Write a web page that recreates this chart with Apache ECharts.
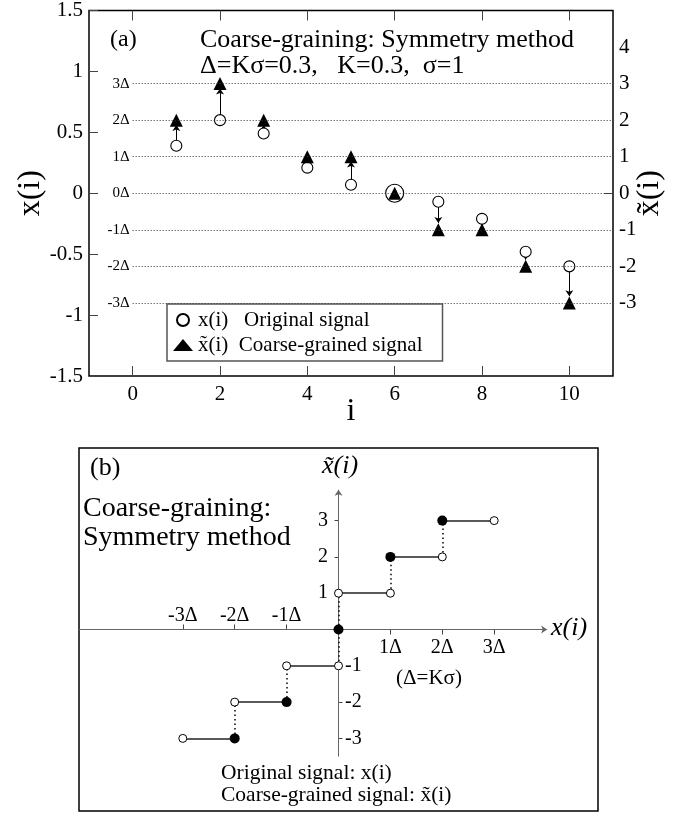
<!DOCTYPE html>
<html><head><meta charset="utf-8">
<script src="https://cdn.jsdelivr.net/npm/echarts@6/dist/echarts.min.js"></script>
<style>html,body{margin:0;padding:0;background:#fff}#c{width:696px;height:813px}</style>
</head><body><div id="c"></div>
<script>
const FONT = 'Liberation Serif';
// ---------- Panel (a) data ----------
const sampleIndex = [1, 2, 3, 4, 5, 6, 7, 8, 9, 10];
const originalSignal = [0.39, 0.60, 0.49, 0.21, 0.07, 0.00, -0.07, -0.21, -0.48, -0.60];
const coarseSignal = [2, 3, 2, 1, 1, 0, -1, -1, -2, -3];   // in units of Δ
const delta = 0.3;
const levelMultiples = [-3, -2, -1, 0, 1, 2, 3];
const xTicksA = [0, 2, 4, 6, 8, 10];
const rightTickLabels = [-3, -2, -1, 0, 1, 2, 3, 4];
// ---------- Panel (b) data ----------
const stepSegments = [[-3, -2, -3], [-2, -1, -2], [-1, 0, -1], [0, 1, 1], [1, 2, 2], [2, 3, 3]]; // [xStart, xEnd, level]
const openPoints = [[-3, -3], [-2, -2], [-1, -1], [0, -1], [0, 1], [1, 1], [2, 2], [3, 3]];
const filledPoints = [[-2, -3], [-1, -2], [0, 0], [1, 2], [2, 3]];
const dottedJumps = [[-2, -3, -2], [-1, -2, -1], [0, -1, 1], [1, 1, 2], [2, 2, 3]]; // [x, yFrom, yTo]
const xTicksPos = [1, 2, 3], xTicksNeg = [-3, -2, -1];
const yTicksPos = [1, 2, 3], yTicksNeg = [-1, -2, -3];
const axisArrowsB = [[[-5, 0], [4.02, 0]], [[0, -3.5], [0, 3.85]]];

const nameO = 'x(i)   Original signal';
const nameC = 'x\u0303(i)  Coarse-grained signal';

const arrows = [];
sampleIndex.forEach((i, k) => {
  const from = originalSignal[k], to = coarseSignal[k] * delta;
  if (Math.abs(to - from) < 0.01) return;
  const end = to > from ? to - 0.04 : to + 0.055;
  arrows.push({ coords: [[i, from], [i, end]] });
});

const txt = (x, y, text, size, opt) => ({
  type: 'text', x: x, y: y, silent: true,
  style: Object.assign({ text: text, fontSize: size, fontFamily: FONT, fill: '#000',
    align: 'left', verticalAlign: 'middle', textAlign: 'left', textVerticalAlign: 'middle' }, (opt || {}))
});

const tickLabelSeries = (pts, fmt, pos, dist) => ({
  type: 'scatter', xAxisIndex: 2, yAxisIndex: 2, silent: true, z: 5,
  data: pts, symbol: 'circle', symbolSize: 1,
  itemStyle: { color: 'rgba(0,0,0,0)', opacity: 1 },
  label: { show: true, position: pos, distance: dist, formatter: fmt,
    fontSize: 20, fontFamily: FONT, color: '#000' }
});

const chart = echarts.init(document.getElementById('c'), null, { renderer: 'canvas' });
chart.setOption({
  animation: false,
  backgroundColor: '#fff',
  grid: [
    { left: 89, top: 10, width: 524, height: 366, show: true, borderColor: '#000', borderWidth: 1.5, backgroundColor: 'transparent' },
    { left: 79, top: 448, width: 519, height: 363, show: true, borderColor: '#000', borderWidth: 1.5, backgroundColor: 'transparent' }
  ],
  xAxis: [
    { gridIndex: 0, type: 'value', min: -1, max: 11, position: 'bottom',
      axisLine: { show: false, onZero: false },
      axisTick: { show: true, inside: true, length: 10, customValues: xTicksA, lineStyle: { color: '#444' } },
      axisLabel: { customValues: xTicksA, fontSize: 21, fontFamily: FONT, color: '#000', margin: 8 },
      splitLine: { show: false },
      name: 'i', nameLocation: 'middle', nameGap: 20, nameMoveOverlap: false,
      nameTextStyle: { fontSize: 32, fontFamily: FONT, color: '#000' } },
    { gridIndex: 0, type: 'value', min: -1, max: 11, position: 'top',
      axisLine: { show: false, onZero: false },
      axisTick: { show: true, inside: true, length: 10, customValues: xTicksA, lineStyle: { color: '#444' } },
      axisLabel: { show: false }, splitLine: { show: false } },
    { gridIndex: 1, type: 'value', min: -5, max: 5, position: 'bottom',
      axisLine: { show: false, onZero: true, onZeroAxisIndex: 2 },
      axisTick: { show: true, length: 5, customValues: xTicksPos, lineStyle: { color: '#444' } },
      axisLabel: { show: false }, splitLine: { show: false } },
    { gridIndex: 1, type: 'value', min: -5, max: 5, position: 'top',
      axisLine: { show: false, onZero: true, onZeroAxisIndex: 2 },
      axisTick: { show: true, length: 5, customValues: xTicksNeg, lineStyle: { color: '#444' } },
      axisLabel: { show: false }, splitLine: { show: false } }
  ],
  yAxis: [
    { gridIndex: 0, type: 'value', min: -1.5, max: 1.5, interval: 0.5, position: 'left',
      axisLine: { show: false, onZero: false },
      axisTick: { show: true, inside: true, length: 9, lineStyle: { color: '#444' } },
      axisLabel: { fontSize: 21, fontFamily: FONT, color: '#000', margin: 6 },
      splitLine: { show: false },
      name: 'x(i)', nameLocation: 'middle', nameGap: 42, nameMoveOverlap: false,
      nameTextStyle: { fontSize: 32, fontFamily: FONT, color: '#000' } },
    { gridIndex: 0, type: 'value', min: -5, max: 5, interval: 1, position: 'right',
      axisLine: { show: false, onZero: false },
      axisTick: { show: true, inside: true, length: 9, customValues: [0], lineStyle: { color: '#444' } },
      axisLabel: { customValues: rightTickLabels, fontSize: 21, fontFamily: FONT, color: '#000', margin: 6 },
      splitLine: { show: false },
      name: 'x\u0303(i)', nameLocation: 'middle', nameGap: 21, nameRotate: 90, nameMoveOverlap: false,
      nameTextStyle: { fontSize: 32, fontFamily: FONT, color: '#000' } },
    { gridIndex: 1, type: 'value', min: -5, max: 5, position: 'left',
      axisLine: { show: false, onZero: true, onZeroAxisIndex: 2 },
      axisTick: { show: true, length: 4, customValues: yTicksPos, lineStyle: { color: '#444' } },
      axisLabel: { show: false }, splitLine: { show: false } },
    { gridIndex: 1, type: 'value', min: -5, max: 5, position: 'right',
      axisLine: { show: false, onZero: true, onZeroAxisIndex: 2 },
      axisTick: { show: true, length: 4, customValues: yTicksNeg, lineStyle: { color: '#444' } },
      axisLabel: { show: false }, splitLine: { show: false } }
  ],
  legend: {
    left: 167, top: 304, orient: 'vertical',
    data: [{ name: nameO, icon: 'circle' }, { name: nameC, icon: 'triangle' }],
    itemWidth: 20, itemHeight: 12, itemGap: 1,
    padding: [4, 20, 4, 6],
    borderColor: '#555', borderWidth: 1.5, backgroundColor: '#fff',
    textStyle: { fontSize: 21, fontFamily: FONT, color: '#000', lineHeight: 24 }
  },
  series: [
    { type: 'lines', coordinateSystem: 'cartesian2d', xAxisIndex: 0, yAxisIndex: 0,
      data: arrows, symbol: ['none', 'arrow'], symbolSize: 6, silent: true, z: 2,
      lineStyle: { color: '#000', width: 1, opacity: 1, curveness: 0 } },
    { type: 'scatter', name: nameO, xAxisIndex: 0, yAxisIndex: 0, z: 3,
      data: sampleIndex.map((i, k) => [i, originalSignal[k]]),
      symbol: 'circle',
      symbolSize: (v, p) => Math.abs(originalSignal[p.dataIndex] - coarseSignal[p.dataIndex] * delta) < 0.01 ? 18 : 11,
      itemStyle: { color: '#fff', borderColor: '#000', borderWidth: 1.1, opacity: 1 },
      markLine: {
        silent: true, symbol: ['none', 'none'], animation: false,
        lineStyle: { color: '#333', width: 1, type: [1, 2] },
        label: { show: true, position: 'start', formatter: '{b}', fontSize: 15, fontFamily: FONT, color: '#000', distance: 3 },
        emphasis: { disabled: true },
        data: levelMultiples.map(k => [{ coord: [0, k * delta], name: k + 'Δ' }, { coord: [11, k * delta] }])
      } },
    { type: 'scatter', name: nameC, xAxisIndex: 0, yAxisIndex: 1, z: 4,
      data: sampleIndex.map((i, k) => [i, coarseSignal[k]]),
      symbol: 'triangle', symbolSize: 13,
      itemStyle: { color: '#000', opacity: 1 } },
    // ---- panel (b) ----
    { type: 'lines', coordinateSystem: 'cartesian2d', xAxisIndex: 2, yAxisIndex: 2, silent: true, z: 1,
      data: axisArrowsB.map(c => ({ coords: c })), symbol: ['none', 'arrow'], symbolSize: 6,
      lineStyle: { color: '#666', width: 1, opacity: 1 } },
    { type: 'lines', coordinateSystem: 'cartesian2d', xAxisIndex: 2, yAxisIndex: 2, silent: true, z: 2,
      data: dottedJumps.map(d => ({ coords: [[d[0], d[1]], [d[0], d[2]]] })),
      lineStyle: { color: '#000', width: 1.5, opacity: 1, type: [1.5, 3] } },
    { type: 'lines', coordinateSystem: 'cartesian2d', xAxisIndex: 2, yAxisIndex: 2, silent: true, z: 2,
      data: stepSegments.map(s => ({ coords: [[s[0], s[2]], [s[1], s[2]]] })),
      lineStyle: { color: '#222', width: 1.6, opacity: 1 } },
    { type: 'scatter', xAxisIndex: 2, yAxisIndex: 2, z: 3, silent: true,
      data: openPoints, symbol: 'circle', symbolSize: 8,
      itemStyle: { color: '#fff', borderColor: '#000', borderWidth: 1, opacity: 1 } },
    { type: 'scatter', xAxisIndex: 2, yAxisIndex: 2, z: 3, silent: true,
      data: filledPoints, symbol: 'circle', symbolSize: 10,
      itemStyle: { color: '#000', opacity: 1 } },
    tickLabelSeries(xTicksPos.map(v => [v, 0]), p => p.value[0] + 'Δ', 'bottom', 8),
    tickLabelSeries(xTicksNeg.map(v => [v, 0]), p => p.value[0] + 'Δ', 'top', 3),
    tickLabelSeries(yTicksPos.map(v => [0, v]), p => String(p.value[1]), 'left', 10),
    tickLabelSeries(yTicksNeg.map(v => [0, v]), p => String(p.value[1]), 'right', 6)
  ],
  graphic: [
    txt(110, 40, '(a)', 24),
    txt(200, 40, 'Coarse-graining: Symmetry method', 26),
    txt(200, 66, 'Δ=Kσ=0.3,   K=0.3,  σ=1', 26),
    txt(90, 468, '(b)', 26),
    txt(83, 509, 'Coarse-graining:', 28),
    txt(83, 538, 'Symmetry method', 28),
    txt(340, 466, 'x\u0303(i)', 26, { fontStyle: 'italic', align: 'center', textAlign: 'center' }),
    txt(551, 628, 'x(i)', 26, { fontStyle: 'italic' }),
    txt(429, 678, '(Δ=Kσ)', 21, { align: 'center', textAlign: 'center' }),
    txt(221, 773, 'Original signal: x(i)', 21.5),
    txt(221, 795, 'Coarse-grained signal: x\u0303(i)', 21.5)
  ]
});
</script></body></html>
